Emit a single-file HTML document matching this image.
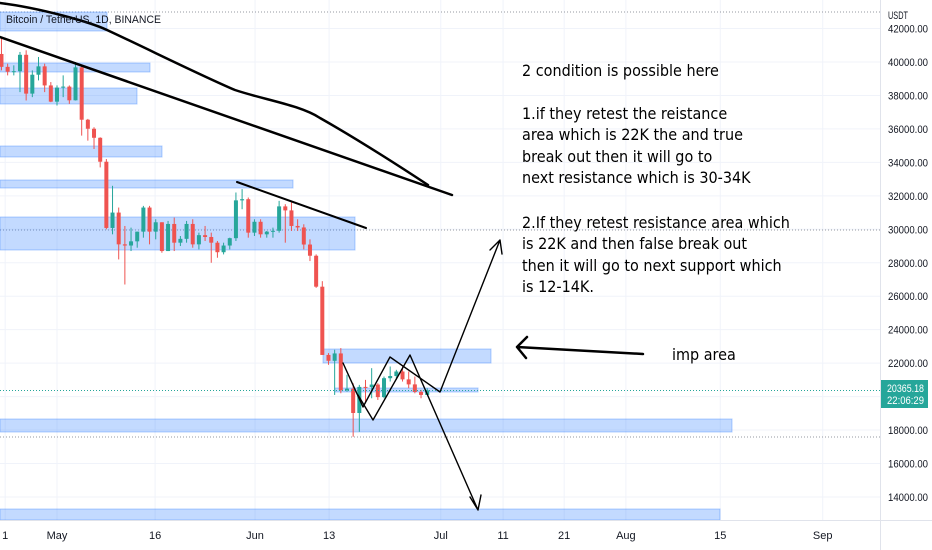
<!DOCTYPE html>
<html><head><meta charset="utf-8"><style>
html,body{margin:0;padding:0;background:#fff;}
#wrap{position:relative;width:932px;height:550px;overflow:hidden;font-family:"Liberation Sans",sans-serif;}
svg{position:absolute;left:0;top:0;}
.note{font-family:"DejaVu Sans Condensed","Liberation Sans",sans-serif;font-size:16px;fill:#000;}
.ax{font-size:11px;fill:#131722;font-family:"Liberation Sans",sans-serif;}
</style></head><body>
<div id="wrap">
<svg id="c" width="932" height="550"></svg>
</div>
<script>
const priceTicks=[42000,40000,38000,36000,34000,32000,30000,28000,26000,24000,22000,20000,18000,16000,14000];
const dateLabels=["1","May","16","Jun","13","Jul","11","21","Aug","15","Sep"];
const dateDays=[-8.4,0,15.9,32.1,44.1,62.2,72.3,82.2,92.2,107.5,124.1];
const firstOpen=41.37;
const closes=[40.48,39.71,39.42,39.45,40.43,38.11,39.24,39.74,38.60,37.63,
38.47,38.53,37.71,39.68,36.55,36.01,35.47,34.04,30.08,31.0,29.10,29.03,29.28,29.86,31.30,29.86,30.42,28.70,30.32,29.20,29.43,30.32,29.10,29.65,29.54,29.20,28.63,29.03,29.47,31.73,31.80,
29.80,30.45,29.70,29.86,29.91,31.37,31.13,30.20,30.11,29.09,28.42,26.57,22.49,22.14,22.58,20.38,20.47,19.02,20.58,20.57,20.72,19.97,21.10,21.23,21.50,21.03,20.73,20.28,20.10,20.37];
const highs=[42.9,41.5,39.9,39.8,40.6,40.7,39.5,40.3,39.9,38.8,
38.6,39.2,38.6,40.0,39.8,36.6,36.1,35.5,34.2,32.6,31.3,30.2,30.1,29.6,31.4,31.4,30.6,29.9,30.5,30.7,29.6,30.5,30.6,29.8,30.2,29.8,29.3,29.2,29.5,32.2,32.4,
31.9,30.6,30.6,29.9,30.1,31.7,31.5,31.6,30.6,30.3,29.4,28.5,26.9,22.6,22.8,22.9,21.3,20.8,20.7,21.0,21.7,20.8,21.2,21.8,21.6,21.8,21.5,21.2,20.4,20.5];
const lows=[40.4,39.5,39.2,39.2,38.2,37.7,37.9,38.9,38.2,37.6,
37.4,37.9,37.5,37.7,35.6,35.3,34.8,33.7,30.0,29.7,28.2,26.7,28.7,28.9,29.5,29.1,29.4,28.6,28.7,28.7,29.0,29.2,28.9,28.8,29.3,28.0,28.3,28.5,28.8,29.3,31.2,
29.5,29.6,29.5,29.5,29.5,29.8,29.2,29.9,29.9,28.8,28.1,26.5,22.6,21.9,20.1,20.2,20.3,17.6,17.9,19.6,19.9,19.8,19.9,20.9,21.0,20.9,20.5,20.2,19.9,20.2];
const startDay=-10;
const lastPrice=20365.18;

const NS="http://www.w3.org/2000/svg";
const svg=document.getElementById('c');
function y(p){return 62+(40000-p)/1000*16.73;}
function x(d){return 57+d*6.17;}
function el(t,a,parent){const e=document.createElementNS(NS,t);for(const k in a)e.setAttribute(k,a[k]);(parent||svg).appendChild(e);return e;}

priceTicks.forEach(p=>{const g=el('line',{x1:0,x2:880,y1:y(p),y2:y(p),stroke:'#f0f3fa','stroke-width':1});

});
dateDays.forEach(d=>{const g=el('line',{x1:x(d),x2:x(d),y1:0,y2:520,stroke:'#f0f3fa','stroke-width':1});

});
[[12,'#9598a1'],[230,'#9598a1'],[437,'#9598a1']].forEach(([yy,c])=>{const l=el('line',{x1:0,x2:880,y1:yy,y2:yy,stroke:c,'stroke-width':1,'stroke-dasharray':'1,2'});

});

const boxes=[[0,12,107,31],[0,63,150,72],[0,88,137,104],[0,146,162,157],[0,180,293,188],[0,217,355,250],[323,349,491,363],[335,388,478,392],[0,419,732,432],[0,509,720,520]];
boxes.forEach(b=>{const r=el('rect',{x:b[0],y:b[1],width:b[2]-b[0],height:b[3]-b[1],fill:'rgba(41,121,255,0.28)',stroke:'rgba(41,121,255,0.35)','stroke-width':1});

});

closes.forEach((c,i)=>{
 const o=i===0?firstOpen:closes[i-1];
 const up=c>=o;const col=up?'#26a69a':'#ef5350';
 const cx=x(startDay+i);
 const g=el('g',{});
 
 
 el('line',{x1:cx,x2:cx,y1:y(Math.max(highs[i],o,c)*1000),y2:y(Math.min(lows[i],o,c)*1000),stroke:col,'stroke-width':1},g);
 const t=y(Math.max(o,c)*1000),bt=y(Math.min(o,c)*1000);
 el('rect',{x:cx-2,y:t,width:4,height:Math.max(1,bt-t),fill:col},g);
});

const cp=el('line',{x1:0,x2:880,y1:y(lastPrice),y2:y(lastPrice),stroke:'#26a69a','stroke-width':1,'stroke-dasharray':'1,2'});



function path(d,w,name){const p=el('path',{d:d,fill:'none',stroke:'#000','stroke-width':w,'stroke-linejoin':'round','stroke-linecap':'round'});

}
path('M0,3 C40,8 90,22 107,30 C150,50 200,75 235,90 C265,100 300,105 320,118 C350,135 390,160 428,185',2.5,'moving-average-curve');
path('M0,37 L452,195',2.5,'long-trendline');
path('M237,182 L366,228',2,'short-trendline');
path('M343,363 L363,407 L390,357 L440,392 L500,240 M490,250 L500,240 L502,254',1.4,'bullish-path-arrow');
path('M358,395 L373,420 L410,355 L478,510 M470,497 L478,510 L481,495',1.4,'bearish-path-arrow');
path('M643,354 L517,347 M527,337 L517,347 L526,358',2.5,'imp-area-arrow');

const notes=[[522,76,"2 condition is possible here"],[522,119,"1.if they retest the reistance"],[522,140,"area which is 22K the and true"],[522,162,"break out then it will go to"],[522,183,"next resistance which is 30-34K"],[522,228,"2.If they retest resistance area which"],[522,249,"is 22K  and then false break out"],[522,271,"then it will go to next support which"],[522,292,"is 12-14K."],[672,360,"imp area"]];
notes.forEach(n=>{const t=el('text',{x:n[0],y:n[1],class:'note'});t.textContent=n[2];

});

const tt=el('text',{x:6,y:23,textLength:155,lengthAdjust:'spacingAndGlyphs',style:'font-size:11px;fill:#131722;font-family:"Liberation Sans",sans-serif'});tt.textContent="Bitcoin / TetherUS, 1D, BINANCE";



const ra=el('rect',{x:880,y:0,width:52,height:550,fill:'#fff'});


el('line',{x1:880.5,x2:880.5,y1:0,y2:550,stroke:'#e0e3eb'});
el('line',{x1:0,x2:932,y1:520.5,y2:520.5,stroke:'#e0e3eb'});
const ba=el('rect',{x:0,y:521,width:880,height:29,fill:'#fff'});


priceTicks.forEach(p=>{if(p===20000)return;const t=el('text',{x:888,y:y(p)+4,class:'ax',textLength:40,lengthAdjust:'spacingAndGlyphs'});t.textContent=p.toFixed(2);

});
el('rect',{x:881,y:0,width:51,height:25,fill:'#fff'});
const ut=el('text',{x:888,y:19,class:'ax',textLength:20,lengthAdjust:'spacingAndGlyphs'});ut.textContent="USDT";


const pb=el('rect',{x:881,y:380,width:47,height:28,fill:'#26a69a'});


const p1=el('text',{x:887,y:392,class:'ax',style:'fill:#fff',textLength:37,lengthAdjust:'spacingAndGlyphs'});p1.textContent=lastPrice.toFixed(2);


const p2=el('text',{x:887,y:404,class:'ax',style:'fill:#fff',textLength:37,lengthAdjust:'spacingAndGlyphs'});p2.textContent="22:06:29";


dateLabels.forEach((l,i)=>{const t=el('text',{x:x(dateDays[i]),y:539,class:'ax','text-anchor':'middle'});t.textContent=l;

});
</script>
</body></html>
